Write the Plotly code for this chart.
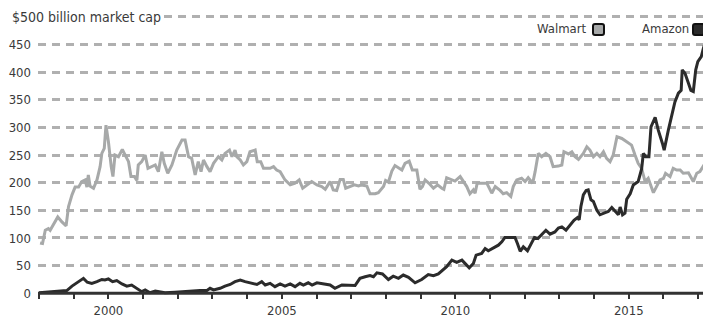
import plotly.graph_objects as go

# ---- data (decimal years, $ billion market cap) ----
walmart_years = [1998.03, 1998.10, 1998.18, 1998.27, 1998.32, 1998.42, 1998.54, 1998.66, 1998.78, 1998.85,
                 1998.95, 1999.04, 1999.14, 1999.23, 1999.33, 1999.38, 1999.42, 1999.47, 1999.57, 1999.67,
                 1999.76, 1999.81, 1999.88, 1999.93, 2000.00, 2000.08, 2000.13, 2000.19, 2000.29, 2000.40,
                 2000.48, 2000.58, 2000.65, 2000.75, 2000.82, 2000.86, 2000.96, 2001.06, 2001.14, 2001.25,
                 2001.35, 2001.44, 2001.54, 2001.61, 2001.71, 2001.83, 2001.97, 2002.12, 2002.21, 2002.31,
                 2002.40, 2002.50, 2002.59, 2002.67, 2002.74, 2002.84, 2002.93, 2003.03, 2003.17, 2003.27,
                 2003.36, 2003.49, 2003.56, 2003.65, 2003.70, 2003.80, 2003.89, 2003.99, 2004.08, 2004.23,
                 2004.29, 2004.39, 2004.47, 2004.66, 2004.76, 2004.85, 2004.95, 2005.09, 2005.24, 2005.38,
                 2005.50, 2005.60, 2005.72, 2005.86, 2006.01, 2006.15, 2006.25, 2006.39, 2006.48, 2006.58,
                 2006.68, 2006.77, 2006.84, 2006.97, 2007.09, 2007.21, 2007.30, 2007.45, 2007.54, 2007.69,
                 2007.78, 2007.93, 2007.99, 2008.07, 2008.17, 2008.26, 2008.36, 2008.46, 2008.55, 2008.67,
                 2008.76, 2008.89, 2008.98, 2009.05, 2009.13, 2009.24, 2009.37, 2009.49, 2009.61, 2009.67,
                 2009.75, 2009.90, 2009.99, 2010.14, 2010.23, 2010.33, 2010.42, 2010.52, 2010.57, 2010.63,
                 2010.76, 2010.91, 2011.05, 2011.15, 2011.29, 2011.38, 2011.48, 2011.60, 2011.67, 2011.77,
                 2011.91, 2012.01, 2012.10, 2012.23, 2012.30, 2012.39, 2012.49, 2012.61, 2012.73, 2012.82,
                 2012.97, 2013.07, 2013.13, 2013.26, 2013.36, 2013.45, 2013.55, 2013.69, 2013.79, 2013.88,
                 2013.98, 2014.08, 2014.17, 2014.27, 2014.36, 2014.46, 2014.55, 2014.66, 2014.80, 2014.94,
                 2015.08, 2015.18, 2015.27, 2015.37, 2015.47, 2015.56, 2015.66, 2015.71, 2015.80, 2015.90,
                 2016.00, 2016.06, 2016.19, 2016.28, 2016.38, 2016.48, 2016.57, 2016.72, 2016.86, 2016.96,
                 2017.05, 2017.20]
walmart_cap = [91, 90, 114, 117, 114, 126, 138, 129, 122, 157,
               178, 192, 192, 202, 205, 192, 214, 194, 190, 205,
               229, 253, 262, 304, 274, 229, 211, 250, 247, 260,
               250, 238, 211, 211, 204, 232, 238, 250, 226, 229,
               232, 220, 256, 235, 217, 232, 259, 277, 277, 247,
               244, 214, 238, 220, 241, 229, 220, 235, 247, 241,
               253, 259, 247, 259, 247, 241, 232, 238, 256, 259,
               238, 238, 226, 226, 229, 223, 220, 205, 196, 199,
               205, 190, 196, 202, 196, 193, 188, 202, 187, 186,
               206, 206, 190, 193, 196, 194, 196, 194, 180, 180,
               182, 193, 204, 201, 221, 231, 227, 223, 235, 239,
               223, 223, 188, 193, 205, 199, 190, 196, 190, 188,
               209, 205, 203, 211, 202, 193, 180, 187, 181, 199,
               199, 199, 181, 193, 186, 180, 182, 175, 193, 205,
               208, 202, 209, 199, 220, 253, 247, 253, 247, 229,
               230, 232, 256, 252, 256, 247, 242, 253, 265, 259,
               247, 253, 247, 256, 244, 238, 250, 283, 280, 274,
               268, 250, 235, 226, 202, 208, 193, 182, 193, 205,
               208, 217, 211, 226, 223, 223, 217, 218, 202, 217,
               220, 235]

amazon_years = [1998.00, 1998.32, 1998.61, 1998.80, 1998.95, 1999.09, 1999.28, 1999.39, 1999.52, 1999.67,
                1999.81, 1999.90, 2000.00, 2000.12, 2000.24, 2000.39, 2000.53, 2000.67, 2000.82, 2000.96,
                2001.06, 2001.20, 2001.35, 2001.49, 2001.63, 2001.92, 2002.26, 2002.64, 2002.84, 2002.93,
                2003.03, 2003.22, 2003.36, 2003.51, 2003.65, 2003.80, 2003.94, 2004.08, 2004.28, 2004.42,
                2004.52, 2004.66, 2004.80, 2004.95, 2005.09, 2005.24, 2005.38, 2005.52, 2005.62, 2005.76,
                2005.87, 2006.01, 2006.20, 2006.39, 2006.53, 2006.73, 2007.11, 2007.25, 2007.40, 2007.54,
                2007.64, 2007.74, 2007.90, 2008.07, 2008.21, 2008.36, 2008.50, 2008.65, 2008.84, 2009.03,
                2009.22, 2009.37, 2009.51, 2009.61, 2009.75, 2009.90, 2010.04, 2010.19, 2010.28, 2010.40,
                2010.52, 2010.60, 2010.76, 2010.86, 2010.95, 2011.10, 2011.24, 2011.34, 2011.43, 2011.58,
                2011.72, 2011.79, 2011.87, 2011.96, 2012.08, 2012.18, 2012.28, 2012.38, 2012.51, 2012.61,
                2012.73, 2012.87, 2012.97, 2013.07, 2013.19, 2013.31, 2013.42, 2013.52, 2013.57, 2013.62,
                2013.69, 2013.77, 2013.83, 2013.91, 2013.98, 2014.08, 2014.17, 2014.32, 2014.41, 2014.51,
                2014.60, 2014.70, 2014.75, 2014.82, 2014.89, 2014.94, 2015.04, 2015.13, 2015.27, 2015.37,
                2015.42, 2015.49, 2015.58, 2015.64, 2015.76, 2015.85, 2015.97, 2016.02, 2016.14, 2016.24,
                2016.33, 2016.43, 2016.51, 2016.54, 2016.62, 2016.72, 2016.79, 2016.86, 2016.93, 2016.99,
                2017.09, 2017.15, 2017.21]
amazon_cap = [1, 3, 4, 5, 13, 19, 27, 20, 18, 21,
              25, 24, 26, 21, 23, 17, 13, 15, 8, 3,
              6, 1, 4, 3, 1, 2, 4, 5, 5, 9,
              6, 9, 13, 16, 21, 24, 21, 19, 16, 21,
              15, 18, 12, 17, 13, 17, 12, 18, 15, 19,
              15, 19, 17, 15, 9, 15, 14, 27, 30, 32,
              30, 37, 35, 25, 31, 27, 33, 29, 19, 25,
              34, 32, 35, 41, 48, 60, 56, 60, 54, 46,
              54, 69, 72, 81, 77, 82, 87, 93, 101, 101,
              101, 90, 76, 84, 77, 89, 101, 99, 108, 114,
              107, 111, 118, 120, 114, 123, 132, 137, 133, 157,
              178, 186, 187, 169, 166, 150, 142, 146, 148, 155,
              149, 142, 156, 142, 145, 170, 180, 196, 202, 225,
              253, 247, 247, 301, 318, 295, 271, 259, 295, 325,
              346, 362, 367, 404, 398, 380, 367, 365, 404, 419,
              428, 443, 455]

year_ticks = list(range(1998, 2018))
year_labels = [str(y) if y % 5 == 0 else "" for y in year_ticks]
value_ticks = [0, 50, 100, 150, 200, 250, 300, 350, 400, 450]
grid_values = [50, 100, 150, 200, 250, 300, 350, 400, 450, 500]
title_text = "$500 billion market cap"
series_names = ["Walmart", "Amazon"]

FONT = "Liberation Sans Narrow, DejaVu Sans Condensed, sans-serif"
TXT = "#3a3a3a"
WAL_C = "#a7a9a9"
AMZ_C = "#2b2b2b"

Y0, Y1 = -4.9, 512.3
X0, X1 = 1997.97, 2017.37

fig = go.Figure()
fig.add_trace(go.Scatter(x=walmart_years, y=walmart_cap, mode="lines", name=series_names[0],
                         line=dict(color=WAL_C, width=3), yaxis="y"))
fig.add_trace(go.Scatter(x=amazon_years, y=amazon_cap, mode="lines", name=series_names[1],
                         line=dict(color=AMZ_C, width=3), yaxis="y"))

# page body has an 8px margin: figure is sized/offset to land at the reference positions
fig.update_layout(
    width=703, height=309,
    margin=dict(l=30, r=0, t=2, b=21, autoexpand=False),
    paper_bgcolor="white", plot_bgcolor="white",
    showlegend=False,
    font=dict(family=FONT, color=TXT, size=14),
    xaxis=dict(range=[X0, X1], tickvals=year_ticks, ticktext=year_labels,
               showgrid=False, zeroline=False, showline=False, automargin=False,
               ticks="outside", ticklen=5, tickwidth=2, tickcolor="#333333",
               anchor="free", position=(0 - Y0) / (Y1 - Y0),
               tickfont=dict(size=13, color=TXT)),
    yaxis=dict(range=[Y0, Y1], tickvals=value_ticks, ticktext=[str(v) for v in value_ticks],
               showgrid=False, zeroline=False, showline=False, ticks="", automargin=False,
               ticklabelstandoff=6, tickfont=dict(size=13, color=TXT)),
    yaxis2=dict(range=[Y0, Y1], overlaying="y", tickvals=grid_values, showticklabels=False,
                showgrid=True, gridcolor="#b0b0b0", gridwidth=3, griddash="8px,6px",
                zeroline=False, showline=False, ticks="", automargin=False),
)
# invisible trace to activate yaxis2 grid
fig.add_trace(go.Scatter(x=[X0], y=[0], yaxis="y2", mode="markers",
                         marker=dict(opacity=0), hoverinfo="skip", showlegend=False))

# x-axis baseline
fig.add_shape(type="line", xref="x", yref="y", x0=X0, x1=2017.15, y0=0, y1=0,
              line=dict(color="#333333", width=3), layer="above")

# title on the 500 gridline
fig.add_annotation(text=title_text, xref="paper", yref="y", x=-29.5 / 673, y=500,
                   xanchor="left", yanchor="middle", showarrow=False,
                   font=dict(size=14, color=TXT), bgcolor="white", borderpad=2)

# legend
fig.add_annotation(text=series_names[0], xref="paper", yref="y", x=(589 - 38) / 673, y=478,
                   xanchor="right", yanchor="middle", showarrow=False, font=dict(size=13, color=TXT))
fig.add_annotation(text=series_names[1], xref="paper", yref="y", x=(691 - 38) / 673, y=478,
                   xanchor="right", yanchor="middle", showarrow=False, font=dict(size=13, color=TXT))
ROUND_SQ = ("M -3.5,-5.5 L 3.5,-5.5 Q 5.5,-5.5 5.5,-3.5 L 5.5,3.5 Q 5.5,5.5 3.5,5.5 "
            "L -3.5,5.5 Q -5.5,5.5 -5.5,3.5 L -5.5,-3.5 Q -5.5,-5.5 -3.5,-5.5 Z")
for cx, col in [((598.5 - 38) / 673, WAL_C), ((698.5 - 38) / 673, AMZ_C)]:
    fig.add_shape(type="path", xref="paper", yref="y", xsizemode="pixel", ysizemode="pixel",
                  xanchor=cx, yanchor=477, path=ROUND_SQ, fillcolor=col,
                  line=dict(color="#111111", width=2), layer="above")

fig.write_html("out.html")
